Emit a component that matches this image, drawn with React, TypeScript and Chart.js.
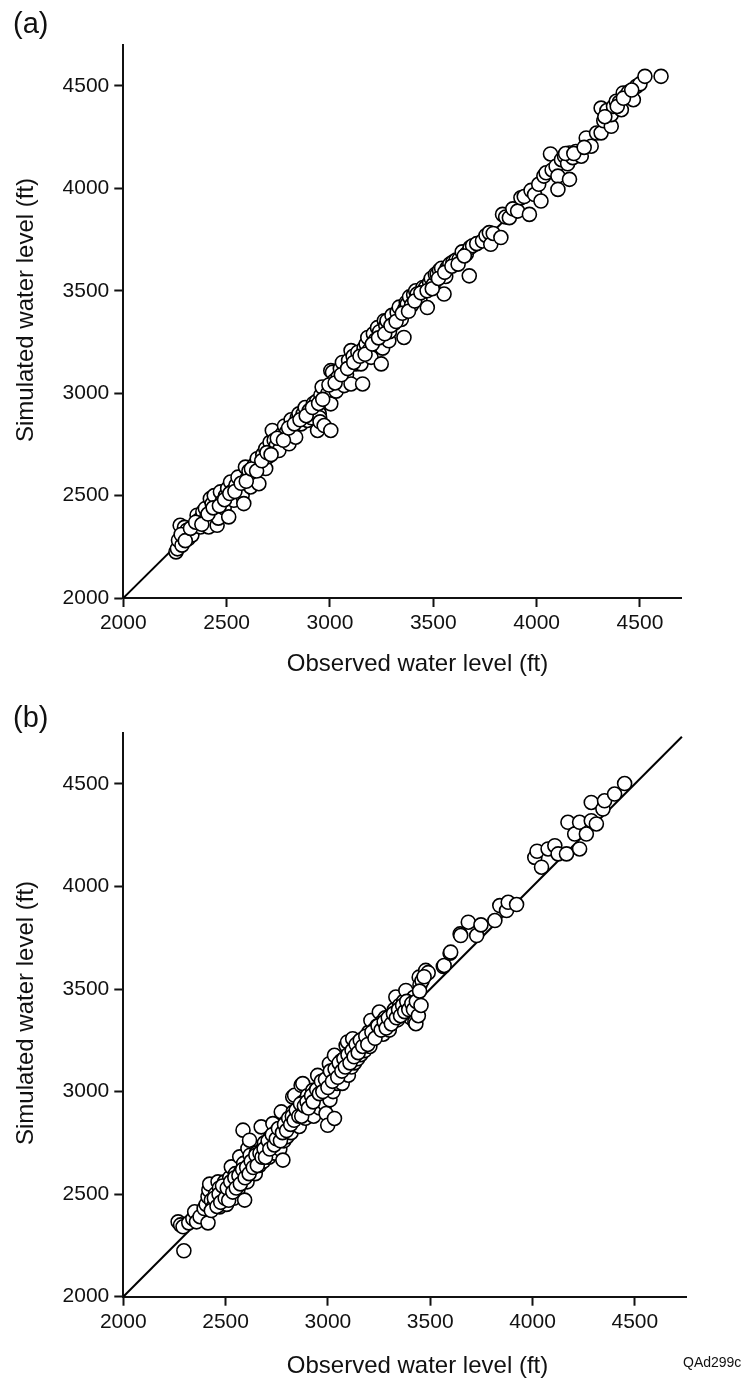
import React, { useEffect, useRef } from "react";
import { Chart, registerables } from "chart.js";

Chart.register(...registerables);

// ---------- DATA ----------
const TICKS = [2000, 2500, 3000, 3500, 4000, 4500];
const X_TITLE = "Observed water level (ft)";
const Y_TITLE = "Simulated water level (ft)";
const PANEL_A = "(a)";
const PANEL_B = "(b)";
const CODE_LABEL = "QAd299c";

const obsA = [2255,2262,2267,2275,2284,2290,2296,2308,2315,2332,2340,2357,2365,2373,2385,2397,2405,2413,2421,2430,2440,2447,2454,2460,2470,2478,2488,2495,2505,2510,2519,2525,2535,2545,2555,2565,2575,2583,2591,2600,2608,2616,2625,2635,2648,2656,2665,2675,2689,2689,2700,2710,2721,2730,2740,2753,2762,2770,2780,2790,2802,2812,2822,2834,2842,2850,2860,2870,2880,2891,2900,2910,2920,2931,2935,2940,2942,2945,2948,2950,2952,2956,2962,2972,2980,2990,3004,3004,3004,3012,3020,3030,3040,3050,3060,3069,3080,3090,3102,3102,3112,3126,3135,3150,3158,3165,3175,3183,3190,3199,3210,3220,3230,3240,3248,3255,3263,3270,3276,3285,3288,3300,3310,3325,3335,3345,3358,3361,3369,3374,3385,3395,3405,3415,3422,3435,3450,3463,3471,3482,3490,3500,3510,3519,3530,3540,3552,3560,3568,3580,3595,3610,3625,3640,3660,3674,3678,3690,3710,3738,3755,3771,3778,3790,3827,3835,3850,3868,3885,3908,3924,3940,3965,3973,3990,4010,4021,4035,4046,4067,4075,4094,4103,4103,4120,4135,4150,4159,4159,4175,4190,4205,4216,4240,4264,4290,4312,4312,4325,4340,4361,4361,4372,4385,4400,4410,4419,4430,4445,4468,4483,4500,4524,4602,
  2280,2300,2325,2350,2380,2410,2435,2465,2490,2515,2540,2570,2595,2620,2645,2670,2695,2715,2745,2775,2800,2828,2855,2885,2915,2945,2965,2995,3025,3055,3085,3115,3145,3170,3205,3235,3265,3295,3320,3350,3380,3410,3440,3470,3495,3525,3555,3590,3620,3650,4140,4180,4230,4330,4390,4420,4460];
const simA = [2225,2240,2282,2355,2258,2300,2345,2331,2290,2307,2350,2404,2380,2347,2420,2437,2400,2347,2485,2460,2500,2420,2355,2390,2518,2470,2440,2500,2535,2396,2566,2520,2477,2550,2590,2530,2500,2461,2639,2585,2620,2542,2600,2650,2680,2558,2640,2700,2729,2632,2690,2760,2818,2770,2745,2720,2790,2802,2840,2810,2753,2870,2830,2785,2880,2899,2850,2900,2930,2867,2915,2880,2950,2915,2960,2818,2940,2920,2900,2880,2860,2990,3030,2842,2980,3000,2818,2948,3110,3102,3060,3010,3080,3120,3150,3037,3090,3160,3045,3208,3180,3143,3200,3143,3045,3220,3240,3272,3210,3175,3290,3260,3320,3300,3143,3220,3354,3330,3354,3256,3300,3380,3340,3394,3420,3360,3272,3410,3443,3435,3470,3430,3480,3500,3484,3460,3516,3516,3418,3540,3560,3530,3580,3581,3600,3610,3484,3570,3613,3630,3640,3650,3654,3690,3680,3573,3711,3720,3730,3743,3770,3784,3727,3780,3760,3873,3860,3857,3900,3889,3954,3960,3873,3990,3970,4020,3938,4060,4076,4168,4090,4108,4060,3995,4140,4157,4120,4173,4044,4150,4180,4170,4157,4246,4206,4270,4271,4392,4330,4380,4303,4360,4400,4425,4420,4384,4466,4450,4470,4433,4498,4510,4547,4547,
  2310,2280,2340,2370,2360,2410,2440,2450,2480,2510,2520,2560,2570,2630,2620,2670,2710,2700,2780,2770,2830,2850,2870,2890,2930,2950,2970,3040,3050,3090,3120,3150,3180,3190,3240,3270,3290,3330,3350,3390,3400,3450,3490,3500,3510,3560,3590,3620,3630,3670,4170,4170,4200,4350,4400,4440,4480];

const obsB = [2268,2280,2292,2296,2320,2340,2349,2358,2375,2395,2405,2414,2414,2418,2422,2430,2440,2450,2455,2463,2470,2471,2480,2490,2495,2505,2510,2520,2528,2530,2540,2548,2555,2560,2569,2575,2580,2585,2588,2593,2600,2605,2609,2612,2617,2620,2630,2640,2645,2650,2660,2665,2674,2680,2685,2690,2700,2705,2712,2720,2725,2731,2735,2740,2745,2752,2760,2765,2772,2775,2780,2785,2790,2795,2800,2810,2815,2820,2828,2830,2837,2840,2850,2855,2860,2869,2875,2877,2880,2890,2895,2900,2910,2915,2926,2930,2935,2940,2950,2955,2960,2965,2970,2980,2985,2991,2995,2999,3005,3007,3010,3015,3020,3025,3032,3032,3040,3045,3050,3060,3065,3070,3080,3089,3090,3096,3100,3110,3115,3121,3125,3130,3140,3145,3150,3160,3165,3175,3180,3190,3200,3205,3210,3220,3225,3235,3240,3251,3255,3265,3270,3280,3290,3300,3305,3315,3325,3332,3340,3350,3360,3370,3381,3390,3400,3405,3413,3420,3425,3430,3438,3446,3450,3460,3478,3490,3564,3568,3597,3600,3646,3649,3686,3727,3748,3816,3840,3873,3881,3922,4011,4022,4044,4076,4109,4125,4166,4173,4206,4230,4230,4263,4287,4287,4312,4344,4352,4401,4450,
  2430,2445,2458,2468,2476,2485,2498,2508,2515,2525,2535,2545,2552,2565,2572,2583,2595,2603,2615,2625,2635,2648,2655,2668,2678,2688,2695,2708,2716,2728,2738,2748,2758,2768,2778,2788,2798,2808,2818,2826,2835,2845,2858,2866,2872,2885,2898,2905,2920,2928,2945,2958,2968,2975,2988,3000,3012,3022,3035,3048,3055,3068,3078,3085,3098,3108,3118,3128,3138,3148,3158,3170,3185,3195,3215,3230,3245,3260,3275,3285,3295,3310,3320,3335,3345,3355,3365,3375,3385,3395,3410,3418,3432,3442,3448,3455,3470];
const simB = [2365,2350,2341,2224,2360,2380,2414,2365,2390,2430,2450,2487,2360,2520,2549,2470,2440,2500,2460,2560,2530,2438,2480,2520,2560,2450,2500,2580,2633,2540,2480,2600,2560,2520,2682,2610,2570,2812,2650,2471,2600,2560,2723,2640,2763,2690,2620,2660,2600,2700,2680,2640,2828,2720,2660,2750,2700,2740,2680,2780,2720,2844,2760,2700,2800,2740,2780,2720,2901,2820,2666,2760,2800,2850,2780,2830,2870,2800,2974,2900,2982,2850,2880,2920,2830,3031,2900,3039,2950,2870,2920,2980,2900,2950,3006,2880,2960,3000,3079,2960,2920,3020,2980,3050,2940,2893,3000,2836,3060,3136,2960,3030,3080,3000,2869,3177,3100,3040,3120,3080,3150,3040,3100,3225,3140,3242,3080,3160,3120,3258,3190,3140,3200,3160,3240,3180,3220,3260,3200,3240,3290,3220,3347,3260,3300,3280,3320,3388,3300,3340,3280,3360,3320,3300,3370,3340,3400,3461,3350,3420,3380,3440,3493,3410,3440,3360,3380,3460,3340,3331,3412,3558,3520,3540,3591,3580,3610,3615,3675,3680,3769,3761,3826,3761,3813,3834,3907,3883,3923,3912,4142,4172,4094,4183,4199,4159,4159,4313,4256,4183,4313,4256,4410,4321,4305,4378,4418,4451,4502,
  2420,2480,2440,2500,2460,2540,2480,2530,2470,2560,2510,2580,2530,2590,2550,2620,2580,2630,2600,2660,2630,2690,2640,2700,2680,2720,2680,2760,2720,2790,2740,2770,2820,2760,2800,2840,2810,2870,2840,2880,2860,2910,2880,2940,2880,2930,2950,2920,2980,2950,3010,2990,3050,3000,3060,3020,3100,3050,3110,3070,3140,3100,3160,3120,3180,3140,3200,3170,3230,3190,3250,3220,3270,3230,3290,3260,3320,3300,3340,3310,3360,3330,3380,3360,3400,3370,3420,3390,3440,3400,3430,3400,3440,3370,3490,3420,3560];

const lineA = [2000, 4550];
const lineB = [2000, 4730];
const AXIS_MIN = 2000;
const MAX_A = 4700;
const MAX_B = 4750;

const FONT = "'Liberation Sans', Arial, Helvetica, sans-serif";
const INK = "#111";

type Cfg = {
  obs: number[];
  sim: number[];
  line: number[];
  max: number;
  padTop: number;
  padRight: number;
  yWidth: number;
  xHeight: number;
  panel: string;
  panelPos: [number, number];
  xTitlePos: [number, number];
  yTitlePos: [number, number];
  code?: [number, number];
};

function makeChart(canvas: HTMLCanvasElement, c: Cfg) {
  const pts = c.obs.map((o, i) => ({ x: o, y: c.sim[i] }));
  const linePts = c.line.map((v) => ({ x: v, y: v }));
  const textPlugin = {
    id: "texts",
    afterDraw(chart: any) {
      const ctx = chart.ctx;
      ctx.save();
      ctx.fillStyle = INK;
      ctx.font = `29px ${FONT}`;
      ctx.textAlign = "left";
      ctx.textBaseline = "alphabetic";
      ctx.fillText(c.panel, c.panelPos[0], c.panelPos[1]);
      ctx.font = `24px ${FONT}`;
      ctx.textAlign = "center";
      ctx.textBaseline = "middle";
      ctx.fillText(X_TITLE, c.xTitlePos[0], c.xTitlePos[1]);
      ctx.save();
      ctx.translate(c.yTitlePos[0], c.yTitlePos[1]);
      ctx.rotate(-Math.PI / 2);
      ctx.fillText(Y_TITLE, 0, 0);
      ctx.restore();
      if (c.code) {
        ctx.font = `14px ${FONT}`;
        ctx.textAlign = "left";
        ctx.textBaseline = "alphabetic";
        ctx.fillText(CODE_LABEL, c.code[0], c.code[1]);
      }
      ctx.restore();
    },
  };
  const scaleCommon = (isX: boolean) => ({
    type: "linear" as const,
    min: AXIS_MIN,
    max: c.max,
    afterBuildTicks: (s: any) => {
      s.ticks = TICKS.map((v) => ({ value: v }));
    },
    afterFit: (s: any) => {
      if (isX) s.height = c.xHeight;
      else s.width = c.yWidth;
    },
    grid: {
      display: true,
      drawOnChartArea: false,
      drawTicks: true,
      tickLength: 9,
      tickWidth: 2,
      tickColor: INK,
      color: INK,
    },
    border: { display: true, color: INK, width: 2 },
    ticks: {
      color: INK,
      font: { family: FONT, size: 21 },
      padding: isX ? 4 : 5,
      maxRotation: 0,
      autoSkip: false,
      callback: (v: any) => String(v),
    },
    title: { display: false },
  });
  return new Chart(canvas, {
    type: "scatter",
    data: {
      datasets: [
        {
          data: pts,
          order: 0,
          pointRadius: 7,
          pointBorderWidth: 1.6,
          pointBackgroundColor: "#fff",
          pointBorderColor: "#000",
          showLine: false,
        } as any,
        {
          data: linePts,
          order: 1,
          showLine: true,
          borderColor: "#000",
          borderWidth: 2,
          pointRadius: 0,
          fill: false,
        } as any,
      ],
    },
    options: {
      responsive: false,
      animation: false,
      events: [],
      layout: { padding: { top: c.padTop, right: c.padRight, left: 0, bottom: 0 } },
      plugins: { legend: { display: false }, tooltip: { enabled: false } },
      scales: { x: scaleCommon(true), y: scaleCommon(false) } as any,
    },
    plugins: [textPlugin],
  });
}

export default function App() {
  const refA = useRef<HTMLCanvasElement>(null);
  const refB = useRef<HTMLCanvasElement>(null);
  useEffect(() => {
    const a = makeChart(refA.current!, {
      obs: obsA,
      sim: simA,
      line: lineA,
      max: MAX_A,
      padTop: 45,
      padRight: 752 - 681.3,
      yWidth: 123.3,
      xHeight: 692 - 598,
      panel: PANEL_A,
      panelPos: [13, 33],
      xTitlePos: [417.5, 664],
      yTitlePos: [26, 310],
    });
    const b = makeChart(refB.current!, {
      obs: obsB,
      sim: simB,
      line: lineB,
      max: MAX_B,
      padTop: 732.7 - 692,
      padRight: 752 - 686,
      yWidth: 123.3,
      xHeight: 692 - 604.7,
      panel: PANEL_B,
      panelPos: [13, 727 - 692],
      xTitlePos: [417.5, 1366 - 692],
      yTitlePos: [26, 1013 - 692],
      code: [683, 1367 - 692],
    });
    return () => {
      a.destroy();
      b.destroy();
    };
  }, []);
  return (
    <div style={{ position: "absolute", left: 0, top: 0, width: 752, height: 1384, background: "#fff" }}>
      <canvas ref={refA} width={752} height={692} style={{ position: "absolute", left: 0, top: 0 }} />
      <canvas ref={refB} width={752} height={692} style={{ position: "absolute", left: 0, top: 692 }} />
    </div>
  );
}
